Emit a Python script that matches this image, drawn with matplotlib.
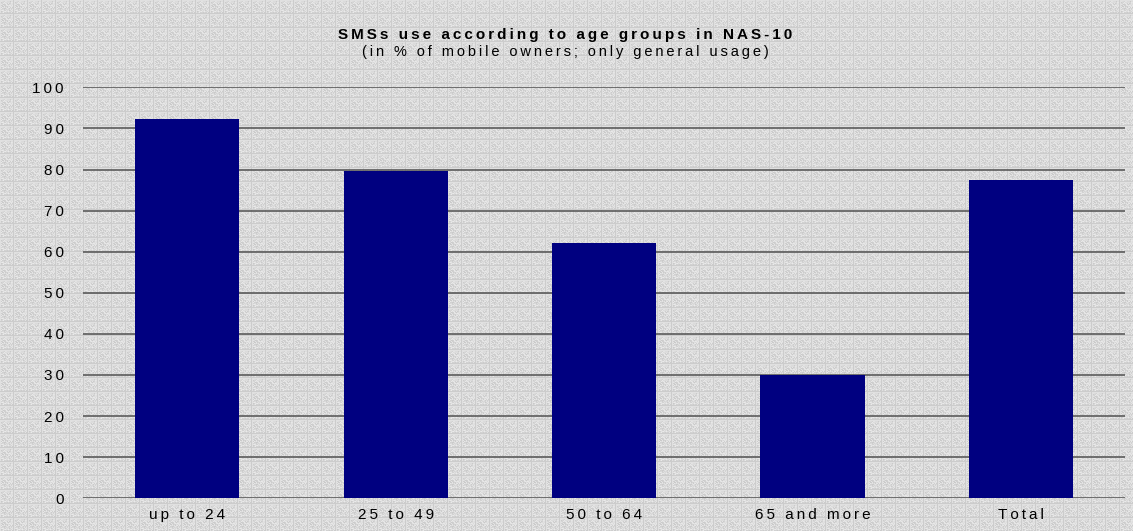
import numpy as np
import matplotlib
matplotlib.use("Agg")
import matplotlib.pyplot as plt

# SMS use by age group, % of mobile owners (NAS-10)
groups = ['up to 24', '25 to 49', '50 to 64', '65 and more', 'Total']
sms_use = [92.2, 79.6, 62.1, 30.0, 77.4]
yticks = [0, 10, 20, 30, 40, 50, 60, 70, 80, 90, 100]

FONT = ['Liberation Sans', 'DejaVu Sans']


def spaced(s):
    # the original uses wide letter spacing
    return '\u2009'.join(s)


fig = plt.figure(figsize=(11.33, 5.31), dpi=100)

# textured grey background, deterministic hash noise on a 14 px tile
H, W = 531, 1133
yy, xx = np.mgrid[0:H, 0:W]
tx, ty = xx % 14, yy % 14
hsh = np.sin(tx * 12.9898 + ty * 78.233) * 43758.5453
hsh = hsh - np.floor(hsh)
tex = 0.79 + 0.13 * hsh
tex[(tx == 0) | (ty == 0)] = 0.88
tex[(tx == 13) | (ty == 13)] = 0.80
fig.figimage(np.dstack([tex, tex, tex]), xo=0, yo=0, zorder=-10)

ax = fig.add_axes([83 / 1133, 1 - 498.3 / 531, (1125 - 83) / 1133, (498.3 - 87.3) / 531])
ax.patch.set_alpha(0)

x = np.arange(len(groups))
ax.bar(x, sms_use, width=0.5, color='#000080', zorder=3)

ax.set_xlim(-0.5, len(groups) - 0.5)
ax.set_ylim(0, 100)
ax.set_yticks(yticks)
ax.set_yticklabels([spaced(str(v)) for v in yticks], family=FONT, fontsize=11, color='black')
ax.set_xticks(x)
ax.set_xticklabels([spaced(g) for g in groups], family=FONT, fontsize=11, color='black')
ax.tick_params(axis='y', length=0, pad=14)
ax.tick_params(axis='x', length=0, pad=7)
ax.grid(axis='y', color='#505050', linewidth=1.1, zorder=1)
for s in ax.spines.values():
    s.set_visible(False)

fig.text(565 / 1133, 1 - 35 / 531, spaced('SMSs use according to age groups in NAS-10'),
         ha='center', va='center', fontsize=11, fontweight='bold', family=FONT)
fig.text(565 / 1133, 1 - 52 / 531, spaced('(in % of mobile owners; only general usage)'),
         ha='center', va='center', fontsize=10.5, family=FONT)

fig.savefig('out.png', dpi=100)
